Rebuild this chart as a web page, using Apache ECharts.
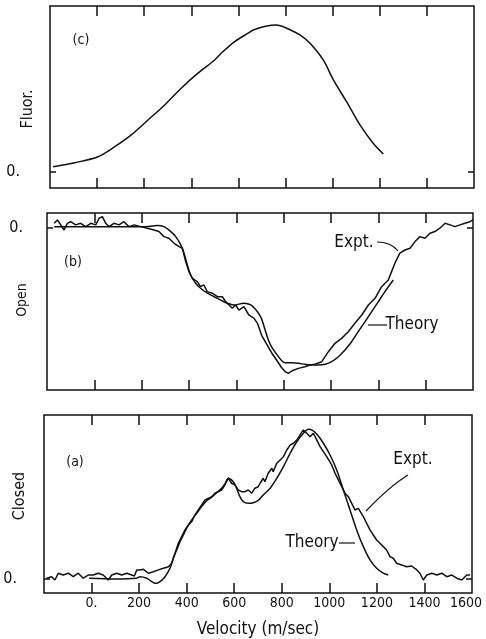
<!DOCTYPE html>
<html>
<head>
<meta charset="utf-8">
<script src="https://cdn.jsdelivr.net/npm/echarts@6/dist/echarts.min.js"></script>
<style>
  html, body { margin: 0; padding: 0; background: #fff; }
  #chart { width: 486px; height: 639px; }
</style>
</head>
<body>
<div id="chart"></div>
<script>
// velocity axis (m/sec)
var velTicks = [0, 200, 400, 600, 800, 1000, 1200, 1400];
var velLabels = [0, 200, 400, 600, 800, 1000, 1200, 1400, 1600];

// (c) fluorescence
var fluorV = [-187, -95, 4, 75, 145, 216, 287, 357, 428, 499, 527, 584, 641, 663, 720, 762, 805, 861, 904, 960, 1003, 1059, 1116, 1172, 1215];
var fluorY = [0.036, 0.063, 0.104, 0.172, 0.252, 0.354, 0.456, 0.570, 0.672, 0.762, 0.808, 0.887, 0.944, 0.966, 0.993, 1.0, 0.978, 0.932, 0.875, 0.762, 0.626, 0.478, 0.320, 0.195, 0.122];

// (b) open
var openExptV = [-170, -156, -142, -128, -114, -100, -79, -58, -36, -15, 6, 20, 34, 48, 62, 83, 104, 125, 146, 168, 196, 224, 252, 273, 294, 315, 337, 358, 372, 386, 400, 414, 435, 449, 463, 477, 498, 520, 541, 555, 569, 583, 597, 611, 632, 653, 675, 690, 707, 728, 749, 770, 790, 806, 820, 834, 862, 890, 911, 932, 961, 989, 1017, 1045, 1073, 1101, 1130, 1158, 1186, 1214, 1242, 1256, 1270, 1291, 1313, 1334, 1355, 1376, 1397, 1418, 1439, 1460, 1482, 1503, 1524, 1545, 1566, 1587, 1600];
var openExptY = [0.032, 0.055, 0.021, -0.014, 0.032, 0.043, 0.021, 0.032, 0.009, 0.032, 0.021, 0.067, 0.078, 0.032, 0.009, 0.032, 0.021, 0.043, 0.009, 0.021, 0.009, -0.002, -0.014, -0.025, -0.060, -0.071, -0.106, -0.129, -0.140, -0.232, -0.301, -0.347, -0.370, -0.405, -0.393, -0.439, -0.450, -0.474, -0.474, -0.508, -0.531, -0.554, -0.531, -0.566, -0.543, -0.600, -0.623, -0.660, -0.740, -0.800, -0.860, -0.910, -0.960, -0.990, -1.002, -0.986, -0.968, -0.957, -0.945, -0.940, -0.922, -0.853, -0.795, -0.761, -0.715, -0.657, -0.600, -0.531, -0.485, -0.405, -0.359, -0.301, -0.243, -0.174, -0.152, -0.140, -0.094, -0.060, -0.071, -0.037, -0.025, -0.002, 0.032, 0.021, 0.009, 0.021, 0.032, 0.043, 0.055];
var openTheoryV = [-170, 0, 150, 230, 266, 294, 323, 344, 365, 379, 393, 407, 428, 449, 477, 506, 534, 562, 590, 632, 661, 689, 705, 721, 735, 749, 770, 792, 806, 834, 862, 890, 918, 946, 975, 1003, 1031, 1059, 1087, 1115, 1144, 1172, 1200, 1228, 1263];
var openTheoryY = [0.008, 0.008, 0.008, 0.010, 0.016, 0.009, -0.025, -0.060, -0.117, -0.174, -0.255, -0.324, -0.381, -0.416, -0.450, -0.474, -0.497, -0.519, -0.531, -0.519, -0.531, -0.577, -0.620, -0.700, -0.770, -0.820, -0.870, -0.915, -0.930, -0.930, -0.933, -0.940, -0.945, -0.945, -0.940, -0.922, -0.888, -0.841, -0.784, -0.715, -0.646, -0.577, -0.508, -0.439, -0.359];

// (a) closed
var closedExptV = [-189, -168, -154, -140, -119, -98, -77, -56, -35, -14, 7, 28, 49, 70, 85, 106, 127, 148, 169, 180, 190, 204, 218, 239, 260, 281, 302, 323, 337, 351, 365, 379, 393, 407, 421, 435, 449, 463, 477, 491, 505, 519, 533, 547, 561, 575, 589, 603, 617, 631, 645, 659, 674, 687, 701, 709, 722, 729, 743, 758, 764, 779, 793, 807, 821, 835, 849, 863, 877, 891, 898, 905, 919, 933, 947, 961, 975, 989, 1010, 1024, 1038, 1052, 1066, 1080, 1094, 1108, 1122, 1129, 1143, 1157, 1171, 1185, 1199, 1213, 1227, 1241, 1255, 1269, 1283, 1304, 1325, 1346, 1368, 1381, 1395, 1410, 1431, 1452, 1473, 1494, 1515, 1536, 1557, 1578, 1592];
var closedExptY = [0.005, 0.015, -0.007, 0.038, 0.026, 0.038, 0.015, 0.038, 0.005, 0.026, 0.026, 0.038, 0.026, -0.007, 0.026, 0.038, 0.026, 0.038, 0.026, 0.020, 0.060, 0.060, 0.064, 0.038, 0.048, 0.060, 0.071, 0.081, 0.104, 0.170, 0.236, 0.280, 0.325, 0.358, 0.379, 0.424, 0.457, 0.490, 0.523, 0.534, 0.545, 0.568, 0.578, 0.589, 0.623, 0.667, 0.634, 0.623, 0.589, 0.578, 0.578, 0.589, 0.568, 0.601, 0.611, 0.634, 0.667, 0.644, 0.700, 0.733, 0.711, 0.766, 0.788, 0.810, 0.854, 0.887, 0.899, 0.921, 0.954, 0.987, 0.998, 0.965, 0.942, 0.965, 0.921, 0.876, 0.843, 0.810, 0.755, 0.700, 0.656, 0.611, 0.568, 0.545, 0.501, 0.457, 0.468, 0.479, 0.413, 0.369, 0.325, 0.291, 0.258, 0.236, 0.214, 0.192, 0.148, 0.137, 0.104, 0.093, 0.081, 0.086, 0.060, 0.038, -0.007, 0.026, 0.038, 0.026, 0.038, 0.015, 0.026, 0.005, -0.007, 0.026, 0.026];
var closedTheoryV = [-10, 100, 190, 204, 232, 260, 274, 288, 309, 330, 344, 358, 372, 386, 400, 421, 442, 463, 484, 505, 526, 547, 561, 575, 596, 610, 624, 638, 659, 680, 701, 722, 751, 779, 807, 835, 863, 891, 912, 926, 947, 975, 1003, 1031, 1059, 1087, 1115, 1143, 1171, 1199, 1227, 1248];
var closedTheoryY = [0.005, 0.000, 0.005, 0.015, 0.005, -0.024, -0.029, -0.018, 0.015, 0.071, 0.137, 0.192, 0.247, 0.291, 0.336, 0.391, 0.435, 0.479, 0.519, 0.541, 0.572, 0.601, 0.629, 0.667, 0.644, 0.601, 0.545, 0.512, 0.501, 0.505, 0.520, 0.556, 0.601, 0.667, 0.744, 0.832, 0.909, 0.965, 0.991, 0.987, 0.960, 0.899, 0.821, 0.722, 0.589, 0.457, 0.325, 0.214, 0.126, 0.071, 0.038, 0.026];

// tall narrow lettering, like the plotter font of the scan
var FONT = "'Liberation Sans Narrow', 'DejaVu Sans Condensed', sans-serif";
var INK = '#111';

function pairs(xs, ys) {
    return xs.map(function (x, i) { return [x, ys[i]]; });
}

var grids = [
    { left: 50, top: 6, width: 424, height: 182 },
    { left: 47, top: 213, width: 426, height: 177 },
    { left: 44, top: 415, width: 428, height: 178 }
];
var yRanges = [[-0.109, 1.129], [-1.117, 0.103], [-0.093, 1.086]];
var zeroMargin = [30, 24, 27];

var xAxes = [], yAxes = [];
grids.forEach(function (g, i) {
    var last = i === 2;
    ['bottom', 'top'].forEach(function (pos) {
        xAxes.push({
            gridIndex: i, type: 'value', position: pos,
            min: -200, max: 1600, interval: 200,
            axisLine: { show: false, onZero: false }, splitLine: { show: false },
            axisTick: { inside: true, length: 10, customValues: velTicks, lineStyle: { color: INK, width: 1.5 } },
            axisLabel: {
                show: last && pos === 'bottom', customValues: velLabels, margin: 3,
                fontFamily: FONT, fontSize: 14, color: INK,
                formatter: function (v) {
                    if (v === 0) return '0.';
                    if (v === 1600) return '{edge|1600}';   // nudged left, stays inside the page
                    return String(v);
                },
                rich: { edge: { fontFamily: FONT, fontSize: 14, color: INK, padding: [0, 12, 0, 0] } }
            },
            name: last && pos === 'bottom' ? 'Velocity (m/sec)' : '',
            nameLocation: 'middle', nameGap: 28,
            nameTextStyle: { fontFamily: FONT, fontSize: 17, color: INK }
        });
    });
    ['left', 'right'].forEach(function (pos) {
        yAxes.push({
            gridIndex: i, type: 'value', position: pos,
            min: yRanges[i][0], max: yRanges[i][1],
            axisLine: { show: false, onZero: false }, splitLine: { show: false },
            axisTick: { inside: true, length: 6, customValues: [0], lineStyle: { color: INK, width: 1.5 } },
            axisLabel: {
                show: pos === 'left', customValues: [0], margin: zeroMargin[i],
                fontFamily: FONT, fontSize: 16, color: INK,
                formatter: function () { return '0.'; }
            }
        });
    });
});

function line(gi, data, smooth) {
    return {
        type: 'line', xAxisIndex: gi * 2, yAxisIndex: gi * 2, data: data,
        showSymbol: false, smooth: smooth, silent: true,
        lineStyle: { color: INK, width: 1.5 }
    };
}

function txt(x, y, s, size, rot) {
    return {
        type: 'text', x: x, y: y, rotation: rot || 0, silent: true,
        style: { text: s, fontFamily: FONT, fontSize: size, fill: INK, textAlign: 'center', textVerticalAlign: 'middle' }
    };
}
function seg(x1, y1, x2, y2) {
    return { type: 'line', silent: true, shape: { x1: x1, y1: y1, x2: x2, y2: y2 }, style: { stroke: INK, lineWidth: 1.2 } };
}

var option = {
    animation: false,
    backgroundColor: '#fff',
    grid: grids.map(function (g) {
        return Object.assign({
            show: true, borderColor: INK, borderWidth: 1.5, backgroundColor: 'transparent',
            containLabel: false, outerBoundsMode: 'none'
        }, g);
    }),
    xAxis: xAxes,
    yAxis: yAxes,
    series: [
        line(0, pairs(fluorV, fluorY), 0.3),
        line(1, pairs(openExptV, openExptY), false),
        line(1, pairs(openTheoryV, openTheoryY), 0.3),
        line(2, pairs(closedExptV, closedExptY), false),
        line(2, pairs(closedTheoryV, closedTheoryY), 0.3)
    ],
    graphic: [
        txt(28, 109, 'Fluor.', 16, Math.PI / 2),
        txt(22, 300, 'Open', 14, Math.PI / 2),
        txt(20, 496, 'Closed', 16, Math.PI / 2),
        txt(81, 40, '(c)', 14),
        txt(73, 262, '(b)', 14),
        txt(75, 462, '(a)', 14),
        // (b) annotations
        txt(354, 243, 'Expt.', 17),
        {
            type: 'bezierCurve', silent: true,
            shape: { x1: 377, y1: 242, x2: 398, y2: 251, cpx1: 391, cpy1: 242 },
            style: { stroke: INK, lineWidth: 1.2, fill: null }
        },
        seg(368, 325, 387, 325),
        txt(412, 325, 'Theory', 17),
        // (a) annotations
        txt(413, 460, 'Expt.', 17),
        {
            type: 'bezierCurve', silent: true,
            shape: { x1: 408, y1: 475, x2: 366, y2: 511, cpx1: 390, cpy1: 486 },
            style: { stroke: INK, lineWidth: 1.2, fill: null }
        },
        txt(312, 543, 'Theory', 17),
        seg(339, 543, 355, 543)
    ]
};

var chart = echarts.init(document.getElementById('chart'));
chart.setOption(option);
</script>
</body>
</html>
